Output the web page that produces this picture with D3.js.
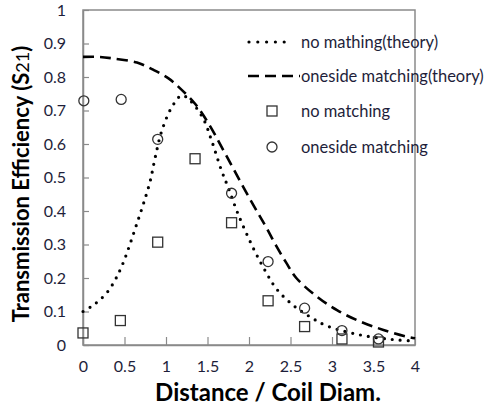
<!DOCTYPE html>
<html><head><meta charset="utf-8">
<script src="https://cdn.jsdelivr.net/npm/d3@7"></script>
<style>body{margin:0;background:#fff}svg{display:block}</style>
</head><body>
<script>
const xTicks = [0,0.5,1,1.5,2,2.5,3,3.5,4];
const yTicks = [0,0.1,0.2,0.3,0.4,0.5,0.6,0.7,0.8,0.9,1];
const noMatchTheory = [[0,0.10],[0.1,0.115],[0.2,0.134],[0.3,0.16],[0.4,0.20],[0.49,0.249],[0.57,0.304],[0.65,0.363],[0.73,0.423],[0.81,0.49],[0.87,0.56],[0.95,0.64],[1.07,0.71],[1.19,0.745],[1.29,0.73],[1.45,0.675],[1.55,0.61],[1.67,0.52],[1.75,0.47],[1.87,0.39],[2.05,0.29],[2.19,0.224],[2.33,0.168],[2.53,0.119],[2.73,0.085],[2.94,0.057],[3.34,0.03],[3.74,0.016],[4.0,0.012]];
const oneSideTheory = [[0,0.86],[0.2,0.86],[0.37,0.855],[0.65,0.843],[0.85,0.821],[1.03,0.796],[1.17,0.766],[1.35,0.72],[1.51,0.662],[1.69,0.582],[1.93,0.472],[2.11,0.393],[2.21,0.35],[2.33,0.295],[2.45,0.245],[2.57,0.2],[2.82,0.144],[3.06,0.104],[3.34,0.07],[3.62,0.045],[3.9,0.025],[4,0.02]];
const noMatchMeas = [[0,0.036],[0.45,0.073],[0.9,0.307],[1.35,0.556],[1.79,0.365],[2.23,0.132],[2.67,0.055],[3.12,0.018],[3.56,0.009]];
const oneSideMeas = [[0.01,0.729],[0.46,0.733],[0.9,0.614],[1.79,0.453],[2.23,0.249],[2.67,0.11],[3.12,0.043],[3.56,0.018]];
const legendLabels = ["no mathing(theory)","oneside matching(theory)","no matching","oneside matching"];

const W=488,H=407;
const svg=d3.select("body").append("svg").attr("width",W).attr("height",H);
const x=d3.scaleLinear().domain([0,4]).range([83,415]);
const y=d3.scaleLinear().domain([0,1]).range([345,10]);
const font="Lato, 'Open Sans', sans-serif";
const axisCol="#8a8a8a";

// frame
svg.append("rect").attr("x",x(0)).attr("y",y(1)).attr("width",x(4)-x(0)).attr("height",y(0)-y(1))
  .attr("fill","none").attr("stroke",axisCol).attr("stroke-width",1.5);

// axes
const gx=svg.append("g").attr("transform",`translate(0,${y(0)})`)
  .call(d3.axisBottom(x).tickValues(xTicks).tickSizeInner(-8).tickSizeOuter(0).tickPadding(16).tickFormat(d3.format("")));
const gy=svg.append("g").attr("transform",`translate(${x(0)},0)`)
  .call(d3.axisLeft(y).tickValues(yTicks).tickSizeInner(-6).tickSizeOuter(0).tickPadding(17).tickFormat(d3.format("")));
[gx,gy].forEach(g=>{
  g.select(".domain").attr("stroke",axisCol).attr("stroke-width",1.5);
  g.selectAll(".tick line").attr("stroke",axisCol).attr("stroke-width",1.2);
  g.selectAll(".tick text").attr("font-family",font).attr("font-size",16).attr("fill","#1e1e3a");
});

// curves
const line=d3.line().x(d=>x(d[0])).y(d=>y(d[1])).curve(d3.curveCatmullRom);
svg.append("path").datum(noMatchTheory).attr("d",line).attr("fill","none")
  .attr("stroke","#000").attr("stroke-width",3.2).attr("stroke-linecap","round").attr("stroke-dasharray","0 8");
svg.append("path").datum(oneSideTheory).attr("d",line).attr("fill","none")
  .attr("stroke","#000").attr("stroke-width",2.6).attr("stroke-dasharray","11 6");

// markers
const mcol="#333";
svg.append("g").selectAll("rect").data(noMatchMeas).join("rect")
  .attr("x",d=>x(d[0])-5).attr("y",d=>y(d[1])-5).attr("width",10).attr("height",10)
  .attr("fill","none").attr("stroke",mcol).attr("stroke-width",1.3);
svg.append("g").selectAll("circle").data(oneSideMeas).join("circle")
  .attr("cx",d=>x(d[0])).attr("cy",d=>y(d[1])).attr("r",5)
  .attr("fill","none").attr("stroke",mcol).attr("stroke-width",1.3);

// legend
const lg=svg.append("g");
const rows=[42,76,111,147];
lg.append("line").attr("x1",249).attr("x2",293).attr("y1",rows[0]).attr("y2",rows[0])
  .attr("stroke","#000").attr("stroke-width",3.2).attr("stroke-linecap","round").attr("stroke-dasharray","0 8.8");
lg.append("line").attr("x1",248).attr("x2",300).attr("y1",rows[1]).attr("y2",rows[1])
  .attr("stroke","#000").attr("stroke-width",2.6).attr("stroke-dasharray","11 6");
lg.append("rect").attr("x",267).attr("y",rows[2]-5).attr("width",10).attr("height",10)
  .attr("fill","none").attr("stroke",mcol).attr("stroke-width",1.3);
lg.append("circle").attr("cx",272).attr("cy",rows[3]).attr("r",5)
  .attr("fill","none").attr("stroke",mcol).attr("stroke-width",1.3);
lg.selectAll("text").data(legendLabels).join("text")
  .attr("x",301).attr("y",(d,i)=>rows[i]).attr("dy","0.35em")
  .attr("font-family",font).attr("font-size",16.5).attr("fill","#1e1e3a").text(d=>d);

// axis titles
svg.append("text").attr("x",268).attr("y",401).attr("text-anchor","middle")
  .attr("font-family",font).attr("font-weight","bold").attr("font-size",24).attr("fill","#000")
  .text("Distance / Coil Diam.");
const yt=svg.append("text").attr("transform","translate(29,184) rotate(-90)").attr("text-anchor","middle")
  .attr("font-family",font).attr("font-weight","bold").attr("font-size",22).attr("fill","#000");
yt.append("tspan").text("Transmission Efficiency (S");
yt.append("tspan").attr("font-size",18).attr("font-weight","normal").text("21");
yt.append("tspan").text(")");
</script>
</body></html>
